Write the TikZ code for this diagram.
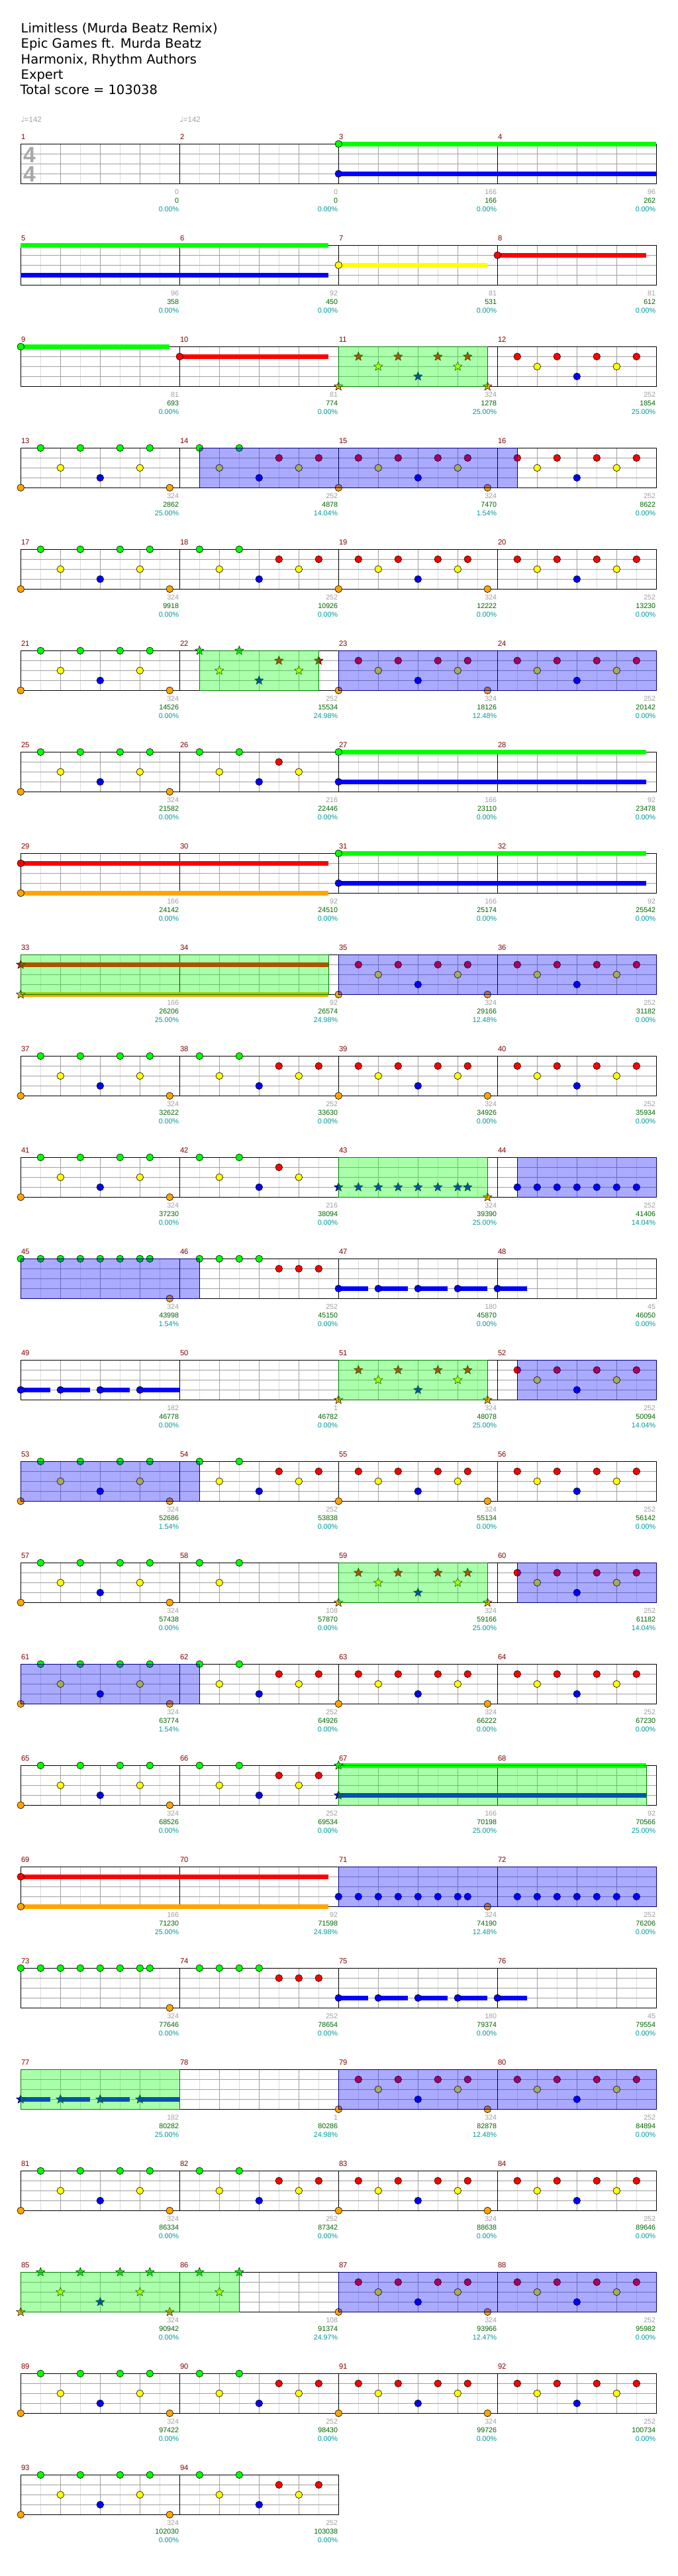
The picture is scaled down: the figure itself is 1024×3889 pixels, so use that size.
\documentclass[tikz,border=0pt]{standalone}
\usepackage{fontspec}
\setmainfont{DejaVu Sans}
\newfontfamily\numfont{Liberation Sans}
\newfontfamily\djv{DejaVu Sans}
\usetikzlibrary{shapes.geometric}
\definecolor{cG}{RGB}{0,255,0}
\definecolor{cR}{RGB}{255,0,0}
\definecolor{cY}{RGB}{255,255,0}
\definecolor{cB}{RGB}{0,0,255}
\definecolor{cO}{RGB}{255,165,0}
\definecolor{gridA}{RGB}{160,160,160}
\definecolor{gridB}{RGB}{220,220,220}
\definecolor{numgray}{RGB}{160,160,160}
\definecolor{numgreen}{RGB}{0,100,0}
\definecolor{numcyan}{RGB}{0,153,153}
\definecolor{mnum}{RGB}{128,0,0}
\definecolor{odline}{RGB}{0,0,128}
\definecolor{spline}{RGB}{0,128,0}
\definecolor{tsgray}{RGB}{168,168,168}
\tikzset{
  gridlight/.style={draw=gridB, line width=0.8pt},
  griddark/.style={draw=gridA, line width=0.9pt},
  barline/.style={draw=black, line width=0.9pt},
  frameline/.style={draw=black, line width=1.3pt},
  headnote/.style={draw=black, line width=0.6pt},
  starnote/.style={star, star points=5, star point ratio=2.3, minimum size=14pt, inner sep=0pt, draw=black, line width=0.5pt},
  mnumst/.style={anchor=base west, inner sep=0pt, text=mnum, font=\fontsize{11.2}{13}\selectfont\numfont},
  graynum/.style={anchor=base east, inner sep=0pt, text=numgray, font=\fontsize{10.7}{12}\selectfont\numfont},
  greennum/.style={graynum, text=numgreen},
  cyannum/.style={graynum, text=numcyan},
  titlest/.style={anchor=base west, inner sep=0pt, font=\fontsize{19.5}{23}\selectfont},
}
\newcommand\hdn[3]{\filldraw[headnote, fill=#1] ({31.3+30*(#3)},{217.3+15*(#2)}) circle[radius=5.3pt];}
\newcommand\stn[3]{\node[starnote, fill=#1] at ({31.3+30*(#3)},{217.3+15*(#2)}) {};}
\newcommand\sus[4]{\draw[#1, line width=6.7pt] ({31.3+30*(#3)},{217.3+15*(#2)}) -- ({31.3+30*(#4)},{217.3+15*(#2)});}
\newcommand\pA[2]{%
  \foreach \p in {1,3,5,6.5}{#1{cG}{0}{8*#2+\p}}%
  \foreach \p in {2,6}{#1{cY}{2}{8*#2+\p}}%
  #1{cB}{3}{8*#2+4}%
  \foreach \p in {0,7.5}{#1{cO}{4}{8*#2+\p}}}
\newcommand\pB[2]{%
  \foreach \p in {1,3}{#1{cG}{0}{8*#2+\p}}%
  \foreach \p in {5,7}{#1{cR}{1}{8*#2+\p}}%
  \foreach \p in {2,6}{#1{cY}{2}{8*#2+\p}}%
  #1{cB}{3}{8*#2+4}}
\newcommand\pBp[2]{%
  \foreach \p in {1,3}{#1{cG}{0}{8*#2+\p}}%
  #1{cR}{1}{8*#2+5}%
  \foreach \p in {2,6}{#1{cY}{2}{8*#2+\p}}%
  #1{cB}{3}{8*#2+4}}
\newcommand\pC[2]{%
  \foreach \p in {1,3,5,6.5}{#1{cR}{1}{8*#2+\p}}%
  \foreach \p in {2,6}{#1{cY}{2}{8*#2+\p}}%
  #1{cB}{3}{8*#2+4}%
  \foreach \p in {0,7.5}{#1{cO}{4}{8*#2+\p}}}
\newcommand\pD[2]{%
  \foreach \p in {1,3,5,7}{#1{cR}{1}{8*#2+\p}}%
  \foreach \p in {2,6}{#1{cY}{2}{8*#2+\p}}%
  #1{cB}{3}{8*#2+4}}
\newcommand\ABCD{\pA{\hdn}{0}\pB{\hdn}{1}\pC{\hdn}{2}\pD{\hdn}{3}}
\newcommand\ovB[2]{\fill[cB, fill opacity=0.333] ({31.3+30*(#1)},217.3) rectangle ({31.3+30*(#2)},277.3);
  \draw[odline, line width=1pt] ({31.3+30*(#1)},217.3) rectangle ({31.3+30*(#2)},277.3);}
\newcommand\ovG[2]{\fill[cG, fill opacity=0.333] ({31.3+30*(#1)},217.3) rectangle ({31.3+30*(#2)},277.3);
  \draw[spline, line width=1pt] ({31.3+30*(#1)},217.3) rectangle ({31.3+30*(#2)},277.3);}
\newcommand\staff[1]{%
  \pgfmathtruncatemacro\nE{8*#1}%
  \foreach \k in {1,3,...,\nE}{\draw[gridlight] ({31.3+30*\k},217.3) -- ++(0,60);}%
  \foreach \k in {2,4,...,\nE}{\draw[griddark] ({31.3+30*\k},217.3) -- ++(0,60);}%
  \foreach \l in {1,2,3}{\draw[griddark] (31.3,{217.3+15*\l}) -- ++({240*#1},0);}%
  \pgfmathtruncatemacro\nM{#1-1}%
  \foreach \m in {1,...,\nM}{\draw[barline] ({31.3+240*\m},217.3) -- ++(0,60);}%
  \draw[frameline] (31.3,217.3) rectangle ++({240*#1},60);}
\newcommand\mtxt[5]{%
  \node[mnumst] at ({31.3+240*#1+0.5},210.3) {#2};
  \node[graynum] at ({31.3+240*(#1+1)-1},293) {#3};
  \node[greennum] at ({31.3+240*(#1+1)-1},306.3) {#4};
  \node[cyannum] at ({31.3+240*(#1+1)-1},319.3) {#5};}
\begin{document}
\begin{tikzpicture}[x=1pt,y=-1pt]
\useasboundingbox (0,0) rectangle (1024,3889);
\fill[white] (0,0) rectangle (1024,3889);
% title
\node[titlest] (t1) at (31.5,50) {Limitless (Murda Beatz Remix)};
\node[titlest] (t2) at (31.5,73) {Epic Games ft. Murda Beatz};
\node[titlest] (t3) at (31.5,96) {Harmonix, Rhythm Authors};
\node[titlest] (t4) at (31.5,119) {Expert};
\node[titlest] (t5) at (30.5,142) {Total score = 103038};
\node[anchor=base west, inner sep=0pt, text=numgray, font=\fontsize{11.5}{13}\selectfont] (tp1) at (31.3,184.5) {{\djv ♩}{\numfont =142}};
\node[anchor=base west, inner sep=0pt, text=numgray, font=\fontsize{11.5}{13}\selectfont] (tp2) at (271.3,184.5) {{\djv ♩}{\numfont =142}};
% row 1
\begin{scope}
\staff{4}
\node[anchor=base west, inner sep=0pt, text=tsgray, font=\fontsize{33.5}{36}\selectfont\numfont\bfseries] (ts1) at (35,245) {4};
\node[anchor=base west, inner sep=0pt, text=tsgray, font=\fontsize{33.5}{36}\selectfont\numfont\bfseries] (ts2) at (35,274) {4};
\sus{cG}{0}{16}{32}\sus{cB}{3}{16}{32}\hdn{cG}{0}{16}\hdn{cB}{3}{16}
\mtxt{0}{1}{0}{0}{0.00\%}\mtxt{1}{2}{0}{0}{0.00\%}\mtxt{2}{3}{166}{166}{0.00\%}\mtxt{3}{4}{96}{262}{0.00\%}
\end{scope}
% row 2
\begin{scope}[shift={(0,153)}]
\staff{4}
\sus{cG}{0}{0}{15.5}\sus{cB}{3}{0}{15.5}
\sus{cY}{2}{16}{23.5}\hdn{cY}{2}{16}
\sus{cR}{1}{24}{31.5}\hdn{cR}{1}{24}
\mtxt{0}{5}{96}{358}{0.00\%}\mtxt{1}{6}{92}{450}{0.00\%}\mtxt{2}{7}{81}{531}{0.00\%}\mtxt{3}{8}{81}{612}{0.00\%}
\end{scope}
% row 3
\begin{scope}[shift={(0,306)}]
\staff{4}
\sus{cG}{0}{0}{7.5}\hdn{cG}{0}{0}
\sus{cR}{1}{8}{15.5}\hdn{cR}{1}{8}
\pC{\stn}{2}\pD{\hdn}{3}
\ovG{16}{23.5}
\mtxt{0}{9}{81}{693}{0.00\%}\mtxt{1}{10}{81}{774}{0.00\%}\mtxt{2}{11}{324}{1278}{25.00\%}\mtxt{3}{12}{252}{1854}{25.00\%}
\end{scope}
% row 4
\begin{scope}[shift={(0,459)}]
\staff{4}
\ABCD
\ovB{9}{25}
\mtxt{0}{13}{324}{2862}{25.00\%}\mtxt{1}{14}{252}{4878}{14.04\%}\mtxt{2}{15}{324}{7470}{1.54\%}\mtxt{3}{16}{252}{8622}{0.00\%}
\end{scope}
% row 5
\begin{scope}[shift={(0,612)}]
\staff{4}
\ABCD
\mtxt{0}{17}{324}{9918}{0.00\%}\mtxt{1}{18}{252}{10926}{0.00\%}\mtxt{2}{19}{324}{12222}{0.00\%}\mtxt{3}{20}{252}{13230}{0.00\%}
\end{scope}
% row 6
\begin{scope}[shift={(0,765)}]
\staff{4}
\pA{\hdn}{0}\pB{\stn}{1}\pC{\hdn}{2}\pD{\hdn}{3}
\ovG{9}{15}\ovB{16}{32}
\mtxt{0}{21}{324}{14526}{0.00\%}\mtxt{1}{22}{252}{15534}{24.98\%}\mtxt{2}{23}{324}{18126}{12.48\%}\mtxt{3}{24}{252}{20142}{0.00\%}
\end{scope}
% row 7
\begin{scope}[shift={(0,918)}]
\staff{4}
\pA{\hdn}{0}\pBp{\hdn}{1}
\sus{cG}{0}{16}{31.5}\sus{cB}{3}{16}{31.5}\hdn{cG}{0}{16}\hdn{cB}{3}{16}
\mtxt{0}{25}{324}{21582}{0.00\%}\mtxt{1}{26}{216}{22446}{0.00\%}\mtxt{2}{27}{166}{23110}{0.00\%}\mtxt{3}{28}{92}{23478}{0.00\%}
\end{scope}
% row 8
\begin{scope}[shift={(0,1071)}]
\staff{4}
\sus{cR}{1}{0}{15.5}\sus{cO}{4}{0}{15.5}\hdn{cR}{1}{0}\hdn{cO}{4}{0}
\sus{cG}{0}{16}{31.5}\sus{cB}{3}{16}{31.5}\hdn{cG}{0}{16}\hdn{cB}{3}{16}
\mtxt{0}{29}{166}{24142}{0.00\%}\mtxt{1}{30}{92}{24510}{0.00\%}\mtxt{2}{31}{166}{25174}{0.00\%}\mtxt{3}{32}{92}{25542}{0.00\%}
\end{scope}
% row 9
\begin{scope}[shift={(0,1224)}]
\staff{4}
\sus{cR}{1}{0}{15.5}\sus{cO}{4}{0}{15.5}\stn{cR}{1}{0}\stn{cO}{4}{0}
\pC{\hdn}{2}\pD{\hdn}{3}
\ovG{0}{15.5}\ovB{16}{32}
\mtxt{0}{33}{166}{26206}{25.00\%}\mtxt{1}{34}{92}{26574}{24.98\%}\mtxt{2}{35}{324}{29166}{12.48\%}\mtxt{3}{36}{252}{31182}{0.00\%}
\end{scope}
% row 10
\begin{scope}[shift={(0,1377)}]
\staff{4}
\ABCD
\mtxt{0}{37}{324}{32622}{0.00\%}\mtxt{1}{38}{252}{33630}{0.00\%}\mtxt{2}{39}{324}{34926}{0.00\%}\mtxt{3}{40}{252}{35934}{0.00\%}
\end{scope}
% row 11
\begin{scope}[shift={(0,1530)}]
\staff{4}
\pA{\hdn}{0}\pBp{\hdn}{1}
\foreach \p in {16,17,18,19,20,21,22,22.5}{\stn{cB}{3}{\p}}
\stn{cO}{4}{23.5}
\ovG{16}{23.5}
\foreach \p in {25,26,27,28,29,30,31}{\hdn{cB}{3}{\p}}
\ovB{25}{32}
\mtxt{0}{41}{324}{37230}{0.00\%}\mtxt{1}{42}{216}{38094}{0.00\%}\mtxt{2}{43}{324}{39390}{25.00\%}\mtxt{3}{44}{252}{41406}{14.04\%}
\end{scope}
% row 12
\begin{scope}[shift={(0,1683)}]
\staff{4}
\foreach \p in {0,1,2,3,4,5,6,6.5}{\hdn{cG}{0}{\p}}
\hdn{cO}{4}{7.5}
\foreach \p in {9,10,11,12}{\hdn{cG}{0}{\p}}
\foreach \p in {13,14,15}{\hdn{cR}{1}{\p}}
\foreach \p in {16,18,20,22,24}{\sus{cB}{3}{\p}{\p+1.5}\hdn{cB}{3}{\p}}
\ovB{0}{9}
\mtxt{0}{45}{324}{43998}{1.54\%}\mtxt{1}{46}{252}{45150}{0.00\%}\mtxt{2}{47}{180}{45870}{0.00\%}\mtxt{3}{48}{45}{46050}{0.00\%}
\end{scope}
% row 13
\begin{scope}[shift={(0,1836)}]
\staff{4}
\foreach \p in {0,2,4}{\sus{cB}{3}{\p}{\p+1.5}}
\sus{cB}{3}{6}{8}
\foreach \p in {0,2,4,6}{\hdn{cB}{3}{\p}}
\pC{\stn}{2}
\ovG{16}{23.5}
\pD{\hdn}{3}
\ovB{25}{32}
\mtxt{0}{49}{182}{46778}{0.00\%}\mtxt{1}{50}{1}{46782}{0.00\%}\mtxt{2}{51}{324}{48078}{25.00\%}\mtxt{3}{52}{252}{50094}{14.04\%}
\end{scope}
% row 14
\begin{scope}[shift={(0,1989)}]
\staff{4}
\ABCD
\ovB{0}{9}
\mtxt{0}{53}{324}{52686}{1.54\%}\mtxt{1}{54}{252}{53838}{0.00\%}\mtxt{2}{55}{324}{55134}{0.00\%}\mtxt{3}{56}{252}{56142}{0.00\%}
\end{scope}
% row 15
\begin{scope}[shift={(0,2142)}]
\staff{4}
\pA{\hdn}{0}
\hdn{cG}{0}{9}\hdn{cG}{0}{11}\hdn{cY}{2}{10}
\pC{\stn}{2}
\ovG{16}{23.5}
\pD{\hdn}{3}
\ovB{25}{32}
\mtxt{0}{57}{324}{57438}{0.00\%}\mtxt{1}{58}{108}{57870}{0.00\%}\mtxt{2}{59}{324}{59166}{25.00\%}\mtxt{3}{60}{252}{61182}{14.04\%}
\end{scope}
% row 16
\begin{scope}[shift={(0,2295)}]
\staff{4}
\ABCD
\ovB{0}{9}
\mtxt{0}{61}{324}{63774}{1.54\%}\mtxt{1}{62}{252}{64926}{0.00\%}\mtxt{2}{63}{324}{66222}{0.00\%}\mtxt{3}{64}{252}{67230}{0.00\%}
\end{scope}
% row 17
\begin{scope}[shift={(0,2448)}]
\staff{4}
\pA{\hdn}{0}\pB{\hdn}{1}
\sus{cG}{0}{16}{31.5}\sus{cB}{3}{16}{31.5}\stn{cG}{0}{16}\stn{cB}{3}{16}
\ovG{16}{31.5}
\mtxt{0}{65}{324}{68526}{0.00\%}\mtxt{1}{66}{252}{69534}{0.00\%}\mtxt{2}{67}{166}{70198}{25.00\%}\mtxt{3}{68}{92}{70566}{25.00\%}
\end{scope}
% row 18
\begin{scope}[shift={(0,2601)}]
\staff{4}
\sus{cR}{1}{0}{15.5}\sus{cO}{4}{0}{15.5}\hdn{cR}{1}{0}\hdn{cO}{4}{0}
\foreach \p in {16,17,18,19,20,21,22,22.5}{\hdn{cB}{3}{\p}}
\hdn{cO}{4}{23.5}
\foreach \p in {25,26,27,28,29,30,31}{\hdn{cB}{3}{\p}}
\ovB{16}{32}
\mtxt{0}{69}{166}{71230}{25.00\%}\mtxt{1}{70}{92}{71598}{24.98\%}\mtxt{2}{71}{324}{74190}{12.48\%}\mtxt{3}{72}{252}{76206}{0.00\%}
\end{scope}
% row 19
\begin{scope}[shift={(0,2754)}]
\staff{4}
\foreach \p in {0,1,2,3,4,5,6,6.5}{\hdn{cG}{0}{\p}}
\hdn{cO}{4}{7.5}
\foreach \p in {9,10,11,12}{\hdn{cG}{0}{\p}}
\foreach \p in {13,14,15}{\hdn{cR}{1}{\p}}
\foreach \p in {16,18,20,22,24}{\sus{cB}{3}{\p}{\p+1.5}\hdn{cB}{3}{\p}}
\mtxt{0}{73}{324}{77646}{0.00\%}\mtxt{1}{74}{252}{78654}{0.00\%}\mtxt{2}{75}{180}{79374}{0.00\%}\mtxt{3}{76}{45}{79554}{0.00\%}
\end{scope}
% row 20
\begin{scope}[shift={(0,2907)}]
\staff{4}
\foreach \p in {0,2,4}{\sus{cB}{3}{\p}{\p+1.5}}
\sus{cB}{3}{6}{8}
\foreach \p in {0,2,4,6}{\stn{cB}{3}{\p}}
\ovG{0}{8}
\pC{\hdn}{2}\pD{\hdn}{3}
\ovB{16}{32}
\mtxt{0}{77}{182}{80282}{25.00\%}\mtxt{1}{78}{1}{80286}{24.98\%}\mtxt{2}{79}{324}{82878}{12.48\%}\mtxt{3}{80}{252}{84894}{0.00\%}
\end{scope}
% row 21
\begin{scope}[shift={(0,3060)}]
\staff{4}
\ABCD
\mtxt{0}{81}{324}{86334}{0.00\%}\mtxt{1}{82}{252}{87342}{0.00\%}\mtxt{2}{83}{324}{88638}{0.00\%}\mtxt{3}{84}{252}{89646}{0.00\%}
\end{scope}
% row 22
\begin{scope}[shift={(0,3213)}]
\staff{4}
\pA{\stn}{0}
\stn{cG}{0}{9}\stn{cG}{0}{11}\stn{cY}{2}{10}
\ovG{0}{11}
\pC{\hdn}{2}\pD{\hdn}{3}
\ovB{16}{32}
\mtxt{0}{85}{324}{90942}{0.00\%}\mtxt{1}{86}{108}{91374}{24.97\%}\mtxt{2}{87}{324}{93966}{12.47\%}\mtxt{3}{88}{252}{95982}{0.00\%}
\end{scope}
% row 23
\begin{scope}[shift={(0,3366)}]
\staff{4}
\ABCD
\mtxt{0}{89}{324}{97422}{0.00\%}\mtxt{1}{90}{252}{98430}{0.00\%}\mtxt{2}{91}{324}{99726}{0.00\%}\mtxt{3}{92}{252}{100734}{0.00\%}
\end{scope}
% row 24
\begin{scope}[shift={(0,3519)}]
\staff{2}
\pA{\hdn}{0}\pB{\hdn}{1}
\mtxt{0}{93}{324}{102030}{0.00\%}\mtxt{1}{94}{252}{103038}{0.00\%}
\end{scope}
\end{tikzpicture}
\end{document}
